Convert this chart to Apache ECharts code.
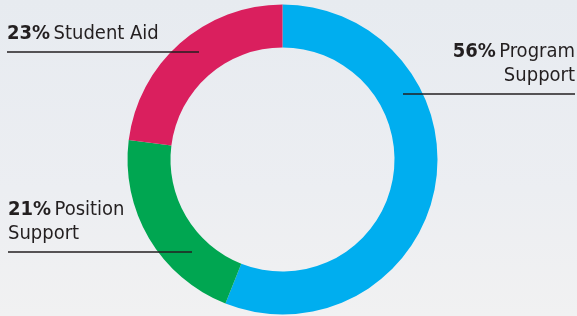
<!DOCTYPE html>
<html>
<head>
<meta charset="utf-8">
<script src="https://cdn.jsdelivr.net/npm/echarts@6/dist/echarts.min.js"></script>
<style>
  html, body { margin: 0; padding: 0; }
  #chart { width: 577px; height: 316px; }
</style>
</head>
<body>
<div id="chart"></div>
<script>
// categories, clockwise from 12 o'clock
const categories = ["Program Support", "Position Support", "Student Aid"];
const labelText = ["Program\nSupport", "Position\nSupport", "Student Aid"];
const shares = [56, 21, 23]; // percent
const colors = ["#00aeef", "#00a651", "#da1f5e"];

// where each label sits and where its underline runs
const labelSpots = [
  { x: 575, y: 88, align: "right", line: [[403, 94], [403, 94], [575, 94]] },
  { x: 8, y: 246, align: "left", line: [[192, 252], [192, 252], [8, 252]] },
  { x: 7, y: 46, align: "left", line: [[199, 52], [199, 52], [7, 52]] }
];

const FONT = "'Liberation Sans Narrow', 'DejaVu Sans Condensed', sans-serif";

const chart = echarts.init(document.getElementById("chart"));

const pieData = (transparent) =>
  categories.map((name, i) => ({
    name: name,
    value: shares[i],
    itemStyle: { color: transparent ? "rgba(0,0,0,0)" : colors[i] }
  }));

const option = {
  backgroundColor: new echarts.graphic.LinearGradient(0, 0, 0, 1, [
    { offset: 0, color: "#e7ebf0" },
    { offset: 0.6, color: "#eceef2" },
    { offset: 1, color: "#f1f1f2" }
  ]),
  series: [
    // the ring itself
    {
      type: "pie",
      z: 2,
      center: [282.5, 159.5],
      radius: [112, 155],
      startAngle: 90,
      clockwise: true,
      silent: true,
      data: pieData(false),
      label: { show: false },
      labelLine: { show: false }
    },
    // same ring, invisible, only to draw labels and underlines on top
    {
      type: "pie",
      z: 5,
      center: [282.5, 159.5],
      radius: [112, 155],
      startAngle: 90,
      clockwise: true,
      silent: true,
      avoidLabelOverlap: false,
      data: pieData(true),
      label: {
        show: true,
        position: "outside",
        color: "#231f20",
        fontFamily: FONT,
        formatter: function (p) {
          const parts = labelText[p.dataIndex].split("\n");
          let s = "{b|" + p.value + "%} {n|" + parts[0] + "}";
          for (let k = 1; k < parts.length; k++) s += "\n{n|" + parts[k] + "}";
          return s;
        },
        rich: {
          b: { fontFamily: FONT, fontSize: 20, fontWeight: "bold", color: "#231f20", lineHeight: 24 },
          n: { fontFamily: FONT, fontSize: 20, color: "#231f20", lineHeight: 24 }
        }
      },
      labelLine: {
        show: true,
        smooth: false,
        lineStyle: { color: "#231f20", width: 1.5 }
      },
      labelLayout: function (params) {
        const s = labelSpots[params.dataIndex];
        return {
          x: s.x,
          y: s.y,
          align: s.align,
          verticalAlign: "bottom",
          labelLinePoints: s.line
        };
      }
    }
  ]
};

chart.setOption(option);
window.addEventListener("resize", () => {
  chart.resize();
});
</script>
</body>
</html>
